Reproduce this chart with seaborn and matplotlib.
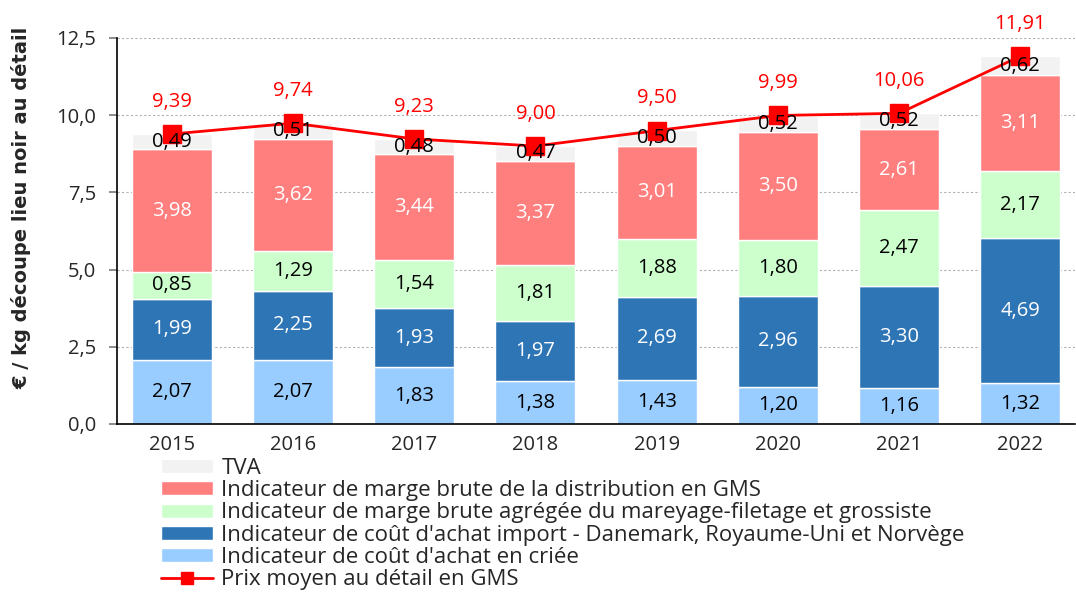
import matplotlib
matplotlib.use("Agg")
import matplotlib.pyplot as plt
import numpy as np
import pandas as pd
import seaborn as sns

years = ["2015", "2016", "2017", "2018", "2019", "2020", "2021", "2022"]
criee = [2.07, 2.07, 1.83, 1.38, 1.43, 1.20, 1.16, 1.32]
import_cost = [1.99, 2.25, 1.93, 1.97, 2.69, 2.96, 3.30, 4.69]
mareyage = [0.85, 1.29, 1.54, 1.81, 1.88, 1.80, 2.47, 2.17]
marge_gms = [3.98, 3.62, 3.44, 3.37, 3.01, 3.50, 2.61, 3.11]
tva = [0.49, 0.51, 0.48, 0.47, 0.50, 0.52, 0.52, 0.62]
prix = [9.39, 9.74, 9.23, 9.00, 9.50, 9.99, 10.06, 11.91]

series = [
    ("Indicateur de coût d'achat en criée", criee, "#99ccff", "black"),
    ("Indicateur de coût d'achat import - Danemark, Royaume-Uni et Norvège", import_cost, "#2e75b6", "white"),
    ("Indicateur de marge brute agrégée du mareyage-filetage et grossiste", mareyage, "#ccffcc", "black"),
    ("Indicateur de marge brute de la distribution en GMS", marge_gms, "#ff7f7f", "white"),
    ("TVA", tva, "#f2f2f2", "black"),
]

FS = 14.5
LEG_FS = 16

sns.set_theme(style="white")
plt.rcParams["font.family"] = ["Open Sans", "DejaVu Sans"]

fig = plt.figure(figsize=(10.76, 5.93), dpi=100)
ax = fig.add_axes([0.109, 0.285, 0.89, 0.651])

x = np.arange(len(years))
bottom = np.zeros(len(years))
handles = []
for label, vals, color, tcolor in series:
    vals = np.array(vals)
    bars = ax.bar(x, vals, bottom=bottom, width=0.66, color=color, label=label, zorder=2)
    handles.append(bars)
    for xi, b, v in zip(x, bottom, vals):
        ax.text(xi, b + v / 2, f"{v:.2f}".replace(".", ","), ha="center", va="center",
                color=tcolor, fontsize=FS, zorder=4)
    bottom = bottom + vals

line, = ax.plot(x, prix, color="#ff0000", lw=2, marker="s", markersize=13.5, zorder=3,
                label="Prix moyen au détail en GMS")
for xi, p in zip(x, prix):
    ax.text(xi, p + 1.05, f"{p:.2f}".replace(".", ","), ha="center", va="center",
            color="#ff0000", fontsize=FS)

ax.set_xlim(-0.45, 7.45)
ax.set_ylim(0, 12.5)
ax.set_yticks([0, 2.5, 5, 7.5, 10, 12.5])
ax.set_yticklabels(["0,0", "2,5", "5,0", "7,5", "10,0", "12,5"])
ax.set_xticks(x)
ax.set_xticklabels(years)
ax.tick_params(axis="y", length=6, color="#808080", labelsize=FS, pad=9, left=True)
ax.tick_params(axis="x", length=0, labelsize=FS, pad=8)
ax.yaxis.grid(True, linestyle=(0, (2, 2)), color="#b0b0b0", lw=0.8, zorder=0)
ax.set_axisbelow(True)
for s in ["top", "right"]:
    ax.spines[s].set_visible(False)
for s in ["left", "bottom"]:
    ax.spines[s].set_color("black")
    ax.spines[s].set_linewidth(1.2)
ax.set_ylabel("€ / kg découpe lieu noir au détail", fontsize=14, fontweight="bold",
              family=["DejaVu Sans"])
ax.yaxis.set_label_coords(-0.09, 0.56)

leg_handles = handles[::-1] + [line]
leg_labels = [s[0] for s in series[::-1]] + ["Prix moyen au détail en GMS"]
fig.legend(leg_handles, leg_labels, loc="upper left", bbox_to_anchor=(0.150, 0.228),
           frameon=False, fontsize=LEG_FS, labelspacing=0.06, handlelength=2.34,
           handleheight=0.6, handletextpad=0.36, borderpad=0, borderaxespad=0,
           markerscale=0.65)

fig.savefig("out.png", dpi=100)
